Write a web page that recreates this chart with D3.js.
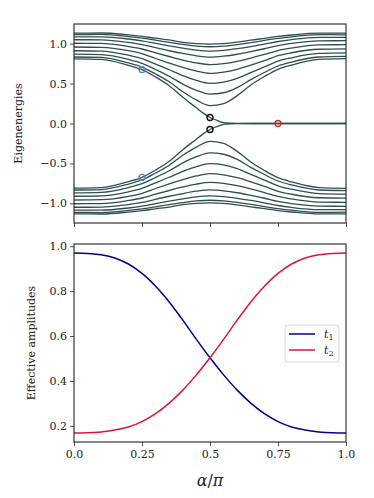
<!DOCTYPE html>
<html>
<head>
<meta charset="utf-8">
<script src="https://cdn.jsdelivr.net/npm/d3@7"></script>
<style>
  body { margin: 0; background: #fff; }
  svg text { font-family: "DejaVu Serif", serif; fill: #222; }
</style>
</head>
<body>
<svg id="chart" width="374" height="498"></svg>
<script>
'use strict';
(function() {

    // ---- data ----
    // alpha/pi grid for the bulk levels
    var alphaGrid = [0, 0.1, 0.2, 0.25, 0.3, 0.35, 0.4, 0.45, 0.5, 0.55, 0.6, 0.65, 0.7, 0.75, 0.8, 0.9, 1.0];

    // positive bulk eigenenergies (spectrum is +/- symmetric), top level first
    var bulkLevels = [
        [1.132, 1.133, 1.109, 1.091, 1.068, 1.046, 1.017, 1.000, 0.995, 1.001, 1.019, 1.043, 1.067, 1.090, 1.108, 1.132, 1.131],
        [1.114, 1.115, 1.089, 1.069, 1.043, 1.016, 0.990, 0.969, 0.961, 0.968, 0.988, 1.013, 1.040, 1.065, 1.086, 1.112, 1.111],
        [1.086, 1.086, 1.058, 1.035, 1.002, 0.971, 0.943, 0.918, 0.906, 0.916, 0.937, 0.964, 0.995, 1.027, 1.051, 1.079, 1.079],
        [1.049, 1.048, 1.016, 0.989, 0.949, 0.911, 0.877, 0.848, 0.831, 0.843, 0.867, 0.900, 0.936, 0.976, 1.003, 1.035, 1.037],
        [1.005, 1.003, 0.964, 0.933, 0.885, 0.839, 0.795, 0.759, 0.738, 0.750, 0.779, 0.820, 0.865, 0.914, 0.945, 0.984, 0.987],
        [0.958, 0.954, 0.912, 0.874, 0.814, 0.757, 0.703, 0.657, 0.627, 0.643, 0.679, 0.730, 0.786, 0.849, 0.886, 0.930, 0.935],
        [0.911, 0.906, 0.855, 0.812, 0.743, 0.673, 0.599, 0.540, 0.503, 0.519, 0.566, 0.637, 0.708, 0.780, 0.823, 0.878, 0.885],
        [0.868, 0.862, 0.802, 0.754, 0.676, 0.592, 0.494, 0.416, 0.368, 0.385, 0.450, 0.550, 0.639, 0.720, 0.770, 0.833, 0.841],
        [0.833, 0.827, 0.758, 0.707, 0.620, 0.522, 0.398, 0.295, 0.224, 0.248, 0.349, 0.483, 0.589, 0.679, 0.732, 0.803, 0.812]
    ];

    // lowest level, which turns into the zero-energy edge mode
    var edgeAlpha = [0, 0.1, 0.2, 0.25, 0.3, 0.35, 0.4, 0.45, 0.475, 0.5, 0.525, 0.55, 0.575, 0.6, 0.7, 0.8, 0.9, 1.0];
    var edgeLevel = [0.810, 0.803, 0.729, 0.675, 0.583, 0.474, 0.328, 0.196, 0.130, 0.075, 0.040, 0.010, 0.003, 0.001, 0, 0, 0, 0];

    // marked states
    var markAlpha = [0.25, 0.25, 0.5, 0.5, 0.75];
    var markEnergy = [0.675, -0.675, 0.075, -0.075, 0];
    var markColor = ['#4f86c6', '#4f86c6', '#111111', '#111111', '#c8302f'];

    // effective amplitudes
    var ampAlpha = [0, 0.05, 0.1, 0.15, 0.2, 0.25, 0.3, 0.35, 0.4, 0.45, 0.5, 0.55, 0.6, 0.65, 0.7, 0.75, 0.8, 0.85, 0.9, 0.95, 1.0];
    var t1 = [0.970, 0.968, 0.962, 0.948, 0.921, 0.879, 0.822, 0.752, 0.671, 0.585, 0.503, 0.427, 0.359, 0.301, 0.254, 0.219, 0.195, 0.181, 0.173, 0.169, 0.168];
    var t2 = [0.168, 0.169, 0.173, 0.181, 0.195, 0.219, 0.254, 0.301, 0.359, 0.427, 0.503, 0.585, 0.671, 0.752, 0.822, 0.879, 0.921, 0.948, 0.962, 0.968, 0.970];

    var xTicks = [0, 0.25, 0.5, 0.75, 1.0];
    var xTickLabels = ['0.0', '0.25', '0.5', '0.75', '1.0'];
    var topTicks = [-1.0, -0.5, 0.0, 0.5, 1.0];
    var bottomTicks = [0.2, 0.4, 0.6, 0.8, 1.0];

    // ---- layout ----
    var left = 74, right = 346;
    var topPanel = {y0: 24, y1: 223};
    var botPanel = {y0: 244, y1: 442};
    var lineColor = '#2f4f4f';

    var svg = d3.select('#chart');

    var scaleX = d3.scaleLinear().domain([0, 1]).range([left, right]);
    var scaleE = d3.scaleLinear().domain([-1.246, 1.246]).range([topPanel.y1, topPanel.y0]);
    var scaleT = d3.scaleLinear().domain([0.128, 1.010]).range([botPanel.y1, botPanel.y0]);

    function styleAxis(g) {
        g.selectAll('.domain').remove();
        g.selectAll('.tick line').attr('stroke', '#222').attr('stroke-width', 0.8);
        g.selectAll('.tick text').attr('font-size', '11px').attr('fill', '#222');
    }

    // ---- top panel: eigenenergies ----
    var lineE = d3.line()
        .x(function(d) { return scaleX(d[0]); })
        .y(function(d) { return scaleE(d[1]); })
        .curve(d3.curveMonotoneX);

    var topG = svg.append('g');

    bulkLevels.forEach(function(level) {
        [1, -1].forEach(function(sign) {
            var pts = alphaGrid.map(function(a, i) { return [a, sign * level[i]]; });
            topG.append('path')
                .attr('d', lineE(pts))
                .attr('fill', 'none')
                .attr('stroke', lineColor)
                .attr('stroke-width', 1.3);
        });
    });

    [1, -1].forEach(function(sign) {
        var pts = edgeAlpha.map(function(a, i) { return [a, sign * edgeLevel[i]]; });
        topG.append('path')
            .attr('d', lineE(pts))
            .attr('fill', 'none')
            .attr('stroke', lineColor)
            .attr('stroke-width', 1.3);
    });

    topG.selectAll('circle.mark')
        .data(markAlpha)
        .enter().append('circle')
        .attr('class', 'mark')
        .attr('cx', function(d) { return scaleX(d); })
        .attr('cy', function(d, i) { return scaleE(markEnergy[i]); })
        .attr('r', 3)
        .attr('fill', 'none')
        .attr('stroke', function(d, i) { return markColor[i]; })
        .attr('stroke-width', 1.4);

    svg.append('g')
        .attr('transform', 'translate(' + left + ',0)')
        .call(d3.axisLeft(scaleE).tickValues(topTicks).tickFormat(d3.format('.1f')).tickSizeInner(4).tickSizeOuter(0).tickPadding(3))
        .call(styleAxis);

    svg.append('g')
        .attr('transform', 'translate(0,' + topPanel.y1 + ')')
        .call(d3.axisBottom(scaleX).tickValues(xTicks).tickFormat('').tickSizeInner(4).tickSizeOuter(0))
        .call(styleAxis);

    svg.append('rect')
        .attr('x', left).attr('y', topPanel.y0)
        .attr('width', right - left).attr('height', topPanel.y1 - topPanel.y0)
        .attr('fill', 'none').attr('stroke', '#222').attr('stroke-width', 1.1);

    svg.append('text')
        .attr('transform', 'translate(18,' + ((topPanel.y0 + topPanel.y1) / 2) + ') rotate(-90)')
        .attr('text-anchor', 'middle')
        .attr('dy', '0.35em')
        .attr('font-size', '11px')
        .text('Eigenenergies');

    // ---- bottom panel: effective amplitudes ----
    var lineT = d3.line()
        .x(function(d) { return scaleX(d[0]); })
        .y(function(d) { return scaleT(d[1]); })
        .curve(d3.curveCatmullRom.alpha(0.5));

    var series = [
        {name: '1', values: t1, color: '#00008b'},
        {name: '2', values: t2, color: '#dc143c'}
    ];

    series.forEach(function(s) {
        svg.append('path')
            .attr('d', lineT(ampAlpha.map(function(a, i) { return [a, s.values[i]]; })))
            .attr('fill', 'none')
            .attr('stroke', s.color)
            .attr('stroke-width', 1.5);
    });

    svg.append('g')
        .attr('transform', 'translate(' + left + ',0)')
        .call(d3.axisLeft(scaleT).tickValues(bottomTicks).tickFormat(d3.format('.1f')).tickSizeInner(4).tickSizeOuter(0).tickPadding(3))
        .call(styleAxis);

    svg.append('g')
        .attr('transform', 'translate(0,' + botPanel.y1 + ')')
        .call(d3.axisBottom(scaleX).tickValues(xTicks)
            .tickFormat(function(d, i) { return xTickLabels[i]; })
            .tickSizeInner(4).tickSizeOuter(0).tickPadding(4))
        .call(styleAxis);

    svg.append('rect')
        .attr('x', left).attr('y', botPanel.y0)
        .attr('width', right - left).attr('height', botPanel.y1 - botPanel.y0)
        .attr('fill', 'none').attr('stroke', '#222').attr('stroke-width', 1.1);

    svg.append('text')
        .attr('transform', 'translate(31,' + ((botPanel.y0 + botPanel.y1) / 2) + ') rotate(-90)')
        .attr('text-anchor', 'middle')
        .attr('dy', '0.35em')
        .attr('font-size', '11px')
        .text('Effective amplitudes');

    var xlab = svg.append('text')
        .attr('x', (left + right) / 2)
        .attr('y', 486)
        .attr('text-anchor', 'middle')
        .attr('font-size', '16px')
        .attr('font-style', 'italic');
    xlab.append('tspan').text('α');
    xlab.append('tspan').attr('font-style', 'normal').text('/');
    xlab.append('tspan').text('π');

    // legend
    var legend = svg.append('g').attr('transform', 'translate(285,325)');
    legend.append('rect')
        .attr('width', 54).attr('height', 37)
        .attr('rx', 2.5)
        .attr('fill', '#fff').attr('fill-opacity', 0.8)
        .attr('stroke', '#cccccc').attr('stroke-width', 0.8);

    series.forEach(function(s, i) {
        var row = legend.append('g').attr('transform', 'translate(0,' + (9 + i * 16) + ')');
        row.append('line')
            .attr('x1', 4).attr('x2', 30)
            .attr('stroke', s.color).attr('stroke-width', 1.5);
        var label = row.append('text')
            .attr('x', 39).attr('y', 3.5)
            .attr('font-size', '11px');
        label.append('tspan').attr('font-style', 'italic').text('t');
        label.append('tspan').attr('font-size', '8px').attr('dy', 2.5).text(s.name);
    });

})();
</script>
</body>
</html>
